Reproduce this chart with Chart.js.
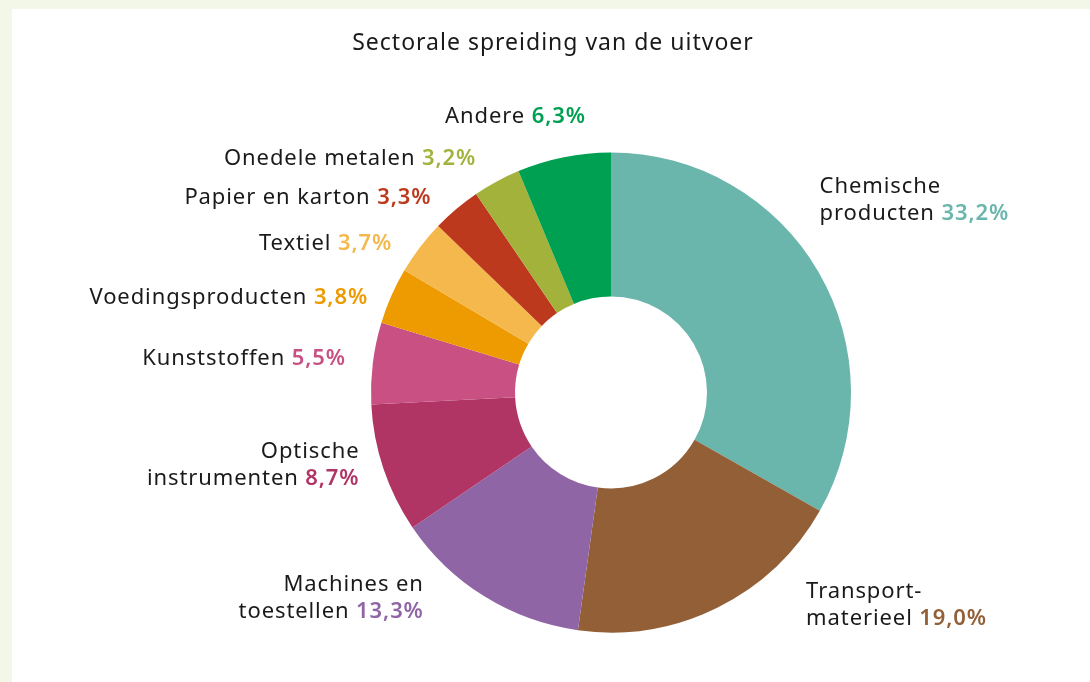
<!DOCTYPE html>
<html>
<head>
<meta charset="utf-8">
<script src="https://cdn.jsdelivr.net/npm/chart.js@4/dist/chart.umd.min.js"></script>
<style>
  body { margin: 0; background: #f3f7e7; width: 1090px; height: 682px; overflow: hidden; }
  #panel { position: absolute; left: 12px; top: 9px; width: 1078px; height: 673px; background: #fff; }
</style>
</head>
<body>
<div id="panel"><canvas id="exportChart" width="1078" height="673"></canvas></div>
<script>
// Sectoren (met regelafbreking zoals in de figuur)
const sectoren = [
    ['Chemische', 'producten'],
    ['Transport-', 'materieel'],
    ['Machines en', 'toestellen'],
    ['Optische', 'instrumenten'],
    ['Kunststoffen'],
    ['Voedingsproducten'],
    ['Textiel'],
    ['Papier en karton'],
    ['Onedele metalen'],
    ['Andere']
];
const aandelen = [33.2, 19.0, 13.3, 8.7, 5.5, 3.8, 3.7, 3.3, 3.2, 6.3];
const kleuren = ['#6ab5ac', '#925f36', '#9065a5', '#b03565', '#c85082',
                 '#ed9b00', '#f5b84c', '#bd391e', '#a3b23b', '#00a052'];
const titel = 'Sectorale spreiding van de uitvoer';

// Kleine verschuivingen van de labels t.o.v. het midden van elk segment
const labelVerschuiving = [
    [-16, -61], [80, -20], [-50, -15], [-5, -10], [-7, -2],
    [-5, 10], [-12, 9], [-12, 4], [-11, -5], [26, -21]
];

const FONT = '"Noto Sans", sans-serif';

function procent(v) {
    return v.toFixed(1).replace('.', ',') + '%';
}

const labelPlugin = {
    id: 'labelPlugin',
    afterDraw(chart) {
        const ctx = chart.ctx;
        ctx.save();
        // titel
        ctx.fillStyle = '#1a1a1a';
        ctx.font = '23px ' + FONT;
        ctx.letterSpacing = '1px';
        ctx.textAlign = 'center';
        ctx.textBaseline = 'middle';
        ctx.fillText(titel, chart.width / 2 + 2, 34);

        ctx.letterSpacing = '0.9px';
        const meta = chart.getDatasetMeta(0);
        const lineHeight = 27;
        meta.data.forEach((arc, i) => {
            const p = arc.getProps(['x', 'y', 'startAngle', 'endAngle', 'outerRadius'], true);
            const mid = (p.startAngle + p.endAngle) / 2;
            const r = p.outerRadius + 20;
            const ax = p.x + Math.cos(mid) * r + labelVerschuiving[i][0];
            const ay = p.y + Math.sin(mid) * r + labelVerschuiving[i][1];
            const links = Math.cos(mid) < 0;
            const regels = chart.data.labels[i];
            const pct = procent(aandelen[i]);
            let y = ay - (regels.length - 1) * lineHeight / 2;
            ctx.textBaseline = 'middle';
            regels.forEach((regel, j) => {
                const laatste = j === regels.length - 1;
                ctx.font = '22px ' + FONT;
                const naamBreedte = ctx.measureText(regel + ' ').width;
                const regelBreedte = ctx.measureText(regel).width;
                ctx.font = '600 22px ' + FONT;
                const pctBreedte = laatste ? ctx.measureText(pct).width : 0;
                const totaal = laatste ? naamBreedte + pctBreedte : regelBreedte;
                const x0 = links ? ax - totaal : ax;
                ctx.textAlign = 'left';
                ctx.font = '22px ' + FONT;
                ctx.fillStyle = '#1a1a1a';
                ctx.fillText(regel, x0, y);
                if (laatste) {
                    ctx.font = '600 22px ' + FONT;
                    ctx.fillStyle = kleuren[i];
                    ctx.fillText(pct, x0 + naamBreedte, y);
                }
                y += lineHeight;
            });
        });
        ctx.restore();
    }
};

const ctx = document.getElementById('exportChart').getContext('2d');
const exportChart = new Chart(ctx, {
    type: 'doughnut',
    data: {
        labels: sectoren,
        datasets: [{
            data: aandelen,
            backgroundColor: kleuren,
            borderWidth: 0,
            hoverOffset: 0
        }]
    },
    options: {
        responsive: false,
        animation: false,
        radius: 240,
        cutout: '40%',
        layout: {
            padding: { left: 220, right: 100, top: 94, bottom: 0 }
        },
        plugins: {
            legend: { display: false },
            title: { display: false },
            tooltip: { enabled: false }
        }
    },
    plugins: [labelPlugin]
});
</script>
</body>
</html>
